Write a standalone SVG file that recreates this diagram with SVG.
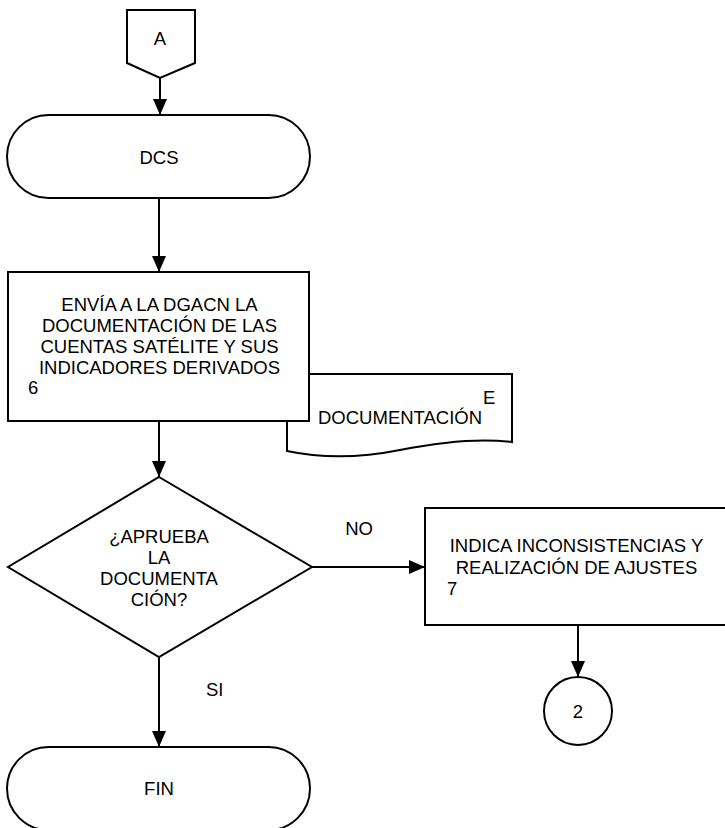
<svg xmlns="http://www.w3.org/2000/svg" width="725" height="828" viewBox="0 0 725 828">
  <style>
    .shape { fill: #ffffff; stroke: #000000; stroke-width: 2; }
    .line { fill: none; stroke: #000000; stroke-width: 2; }
    .t { font-family: "Liberation Sans", Arial, sans-serif; font-size: 18.5px; fill: #000000; }
    .c { text-anchor: middle; }
  </style>
  <defs>
    <marker id="arrow" markerUnits="userSpaceOnUse" markerWidth="16" markerHeight="14" refX="16" refY="7" orient="auto">
      <path d="M0,0 L16,7 L0,14 Z" fill="#000000"/>
    </marker>
  </defs>

  <g id="connectors">
    <line class="line" x1="160" y1="78" x2="160" y2="115" marker-end="url(#arrow)"/>
    <line class="line" x1="159" y1="198" x2="159" y2="272" marker-end="url(#arrow)"/>
    <line class="line" x1="159" y1="421" x2="159" y2="477" marker-end="url(#arrow)"/>
    <line class="line" x1="312" y1="567" x2="425" y2="567" marker-end="url(#arrow)"/>
    <line class="line" x1="578" y1="625" x2="578" y2="677" marker-end="url(#arrow)"/>
    <line class="line" x1="159" y1="657" x2="159" y2="747" marker-end="url(#arrow)"/>
    <text class="t c" x="359" y="535">NO</text>
    <text class="t" x="206" y="696">SI</text>
  </g>

  <g id="connector-a">
    <path class="shape" d="M127,10 L195,10 L195,63 L160,78 L127,63 Z"/>
    <text class="t c" x="160" y="45">A</text>
  </g>

  <g id="dcs">
    <rect class="shape" x="7" y="115" width="303" height="83" rx="41.5" ry="41.5"/>
    <text class="t c" x="159" y="164">DCS</text>
  </g>

  <g id="documento">
    <path class="shape" d="M287,374 L512,374 L512,442 C480,438 440,442 400,450 C360,458 320,458 287,451 Z"/>
    <text class="t" x="483" y="404">E</text>
    <text class="t" x="318" y="424">DOCUMENTACIÓN</text>
  </g>

  <g id="proceso-6">
    <rect class="shape" x="8" y="272" width="301" height="149"/>
    <text class="t c" x="159.5" y="311">ENVÍA A LA DGACN LA</text>
    <text class="t c" x="159.5" y="332">DOCUMENTACIÓN DE LAS</text>
    <text class="t c" x="159.5" y="353">CUENTAS SATÉLITE Y SUS</text>
    <text class="t c" x="159.5" y="374">INDICADORES DERIVADOS</text>
    <text class="t" x="28" y="394">6</text>
  </g>

  <g id="decision">
    <path class="shape" d="M159,477 L312,567 L159,657 L8,567 Z"/>
    <text class="t c" x="159" y="543">¿APRUEBA</text>
    <text class="t c" x="159" y="564">LA</text>
    <text class="t c" x="159" y="585">DOCUMENTA</text>
    <text class="t c" x="159" y="606">CIÓN?</text>
  </g>

  <g id="proceso-7">
    <rect class="shape" x="425" y="508" width="310" height="117"/>
    <text class="t c" x="576.5" y="552">INDICA INCONSISTENCIAS Y</text>
    <text class="t c" x="576.5" y="574">REALIZACIÓN DE AJUSTES</text>
    <text class="t" x="447" y="595">7</text>
  </g>

  <g id="conector-2">
    <ellipse class="shape" cx="578" cy="711" rx="34" ry="34"/>
    <text class="t c" x="578" y="718">2</text>
  </g>

  <g id="fin">
    <rect class="shape" x="7" y="747" width="303" height="83" rx="41.5" ry="41.5"/>
    <text class="t c" x="159" y="795">FIN</text>
  </g>
</svg>
